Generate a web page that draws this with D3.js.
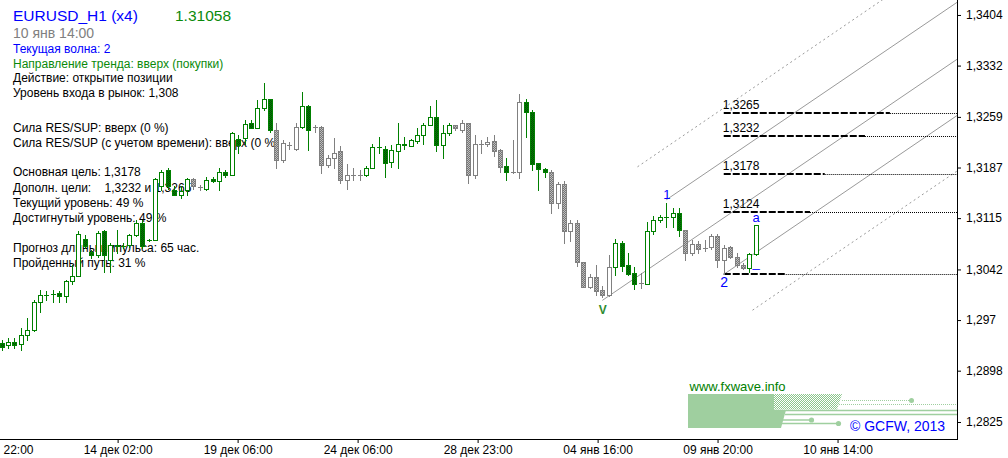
<!DOCTYPE html>
<html lang="ru">
<head>
<meta charset="UTF-8">
<title>EURUSD_H1 (x4)</title>
<script src="https://cdn.jsdelivr.net/npm/d3@7"></script>
<style>
  body { margin: 0; background: #fff; }
  svg { display: block; font-family: "Liberation Sans", Arial, sans-serif; }
</style>
</head>
<body>
<div id="chart"></div>
<script>
const width = 1008
const height = 458
const plot = { right: 957, bottom: 439 }

// candles, oldest first
const opens = [1.2937,1.2935,1.2939,1.2936,1.2949,1.2956,1.2996,1.3006,1.3007,1.3008,
  1.3004,1.3025,1.3032,1.3086,1.3067,1.3063,1.3096,1.3056,1.3075,1.3076,
  1.3077,1.3091,1.3108,1.3084,1.3084,1.3160,1.3183,1.3155,1.3148,1.3155,
  1.3170,1.3159,1.3157,1.3170,1.3168,1.3181,1.3176,1.3228,1.3229,1.3250,
  1.3243,1.3271,1.3284,1.3241,1.3198,1.3219,1.3214,1.3245,1.3274,1.3244,
  1.3245,1.3191,1.3200,1.3210,1.3169,1.3177,1.3176,1.3176,1.3187,1.3216,
  1.3214,1.3195,1.3211,1.3221,1.3218,1.3225,1.3233,1.3248,1.3259,1.3219,
  1.3236,1.3247,1.3241,1.3250,1.3176,1.3221,1.3220,1.3225,1.3212,1.3189,
  1.3181,1.3180,1.3280,1.3266,1.3193,1.3185,1.3180,1.3136,1.3163,1.3096,
  1.3108,1.3052,1.3017,1.3031,1.3013,1.3006,1.3045,1.3079,1.3048,1.3037,
  1.3023,1.3022,1.3096,1.3112,1.3117,1.3117,1.3122,1.3098,1.3065,1.3078,
  1.3072,1.3074,1.3089,1.3055,1.3074,1.3060,1.3048,1.3044,1.3064]
const highs = [1.2942,1.2944,1.2944,1.2958,1.2973,1.2999,1.3013,1.3011,1.3013,1.3011,
  1.3027,1.3048,1.3096,1.3091,1.3070,1.3096,1.3098,1.3079,1.3098,1.3079,
  1.3093,1.3112,1.3112,1.3086,1.3172,1.3184,1.3186,1.3160,1.3160,1.3172,
  1.3172,1.3162,1.3174,1.3174,1.3187,1.3183,1.3238,1.3233,1.3255,1.3255,
  1.3283,1.3307,1.3285,1.3250,1.3226,1.3224,1.3250,1.3294,1.3276,1.3248,
  1.3246,1.3205,1.3229,1.3217,1.3192,1.3187,1.3184,1.3189,1.3221,1.3231,
  1.3217,1.3219,1.3251,1.3231,1.3227,1.3243,1.3251,1.3274,1.3283,1.3248,
  1.3251,1.3248,1.3255,1.3251,1.3233,1.3226,1.3231,1.3233,1.3214,1.3200,
  1.3226,1.3292,1.3285,1.3269,1.3194,1.3187,1.3184,1.3167,1.3168,1.3112,
  1.3112,1.3053,1.3036,1.3048,1.3019,1.3063,1.3086,1.3082,1.3065,1.3046,
  1.3037,1.3110,1.3118,1.3119,1.3136,1.3129,1.3129,1.3098,1.3084,1.3082,
  1.3084,1.3092,1.3092,1.3077,1.3076,1.3066,1.3051,1.3066,1.3105]
const lows = [1.2928,1.2930,1.2930,1.2928,1.2942,1.2954,1.2982,1.2999,1.2996,1.2996,
  1.2996,1.3022,1.3032,1.3072,1.3058,1.3060,1.3039,1.3039,1.3065,1.3072,
  1.3074,1.3089,1.3072,1.3082,1.3084,1.3155,1.3157,1.3148,1.3143,1.3148,
  1.3157,1.3155,1.3155,1.3167,1.3155,1.3174,1.3176,1.3208,1.3221,1.3243,
  1.3243,1.3269,1.3238,1.3186,1.3195,1.3214,1.3212,1.3243,1.3212,1.3238,
  1.3179,1.3188,1.3186,1.3165,1.3156,1.3169,1.3169,1.3175,1.3187,1.3207,
  1.3173,1.3188,1.3186,1.3214,1.3217,1.3222,1.3221,1.3247,1.3210,1.3200,
  1.3233,1.3240,1.3238,1.3165,1.3172,1.3207,1.3217,1.3203,1.3181,1.3169,
  1.3179,1.3172,1.3231,1.3184,1.3155,1.3174,1.3123,1.3129,1.3080,1.3082,
  1.3047,1.3017,1.3015,1.3006,1.3003,1.3004,1.3034,1.3040,1.3034,1.3014,
  1.3015,1.3022,1.3093,1.3110,1.3103,1.3103,1.3090,1.3055,1.3063,1.3065,
  1.3068,1.3071,1.3046,1.3036,1.3058,1.3046,1.3042,1.3039,1.3062]
const closes = [1.2932,1.2939,1.2935,1.2949,1.2956,1.2996,1.3006,1.3006,1.3007,1.3004,
  1.3025,1.3032,1.3093,1.3075,1.3063,1.3094,1.3063,1.3077,1.3077,1.3076,
  1.3091,1.3108,1.3075,1.3084,1.3170,1.3181,1.3160,1.3148,1.3154,1.3170,
  1.3160,1.3159,1.3169,1.3168,1.3181,1.3176,1.3236,1.3219,1.3249,1.3243,
  1.3271,1.3284,1.3241,1.3198,1.3222,1.3219,1.3245,1.3274,1.3241,1.3244,
  1.3191,1.3200,1.3207,1.3169,1.3177,1.3177,1.3176,1.3187,1.3216,1.3216,
  1.3194,1.3212,1.3221,1.3219,1.3226,1.3233,1.3248,1.3259,1.3219,1.3236,
  1.3247,1.3243,1.3250,1.3176,1.3220,1.3221,1.3224,1.3211,1.3188,1.3181,
  1.3181,1.3280,1.3266,1.3192,1.3185,1.3181,1.3136,1.3163,1.3096,1.3108,
  1.3052,1.3017,1.3031,1.3012,1.3006,1.3045,1.3079,1.3047,1.3036,1.3022,
  1.3023,1.3097,1.3112,1.3117,1.3117,1.3122,1.3098,1.3065,1.3078,1.3071,
  1.3072,1.3089,1.3055,1.3072,1.3060,1.3048,1.3044,1.3064,1.31058]
// g = wave candle (green), k = grey candle
const tones = 'gggggggggggggggggggggggggggggg' + 'kkgggggggggggkkkkggkkkkkkkkggg' +
  'gggggggggggkkkkkkkkgkkggggkkkk' + 'kkkkkkggggkggggggkkkkkkkkkkgg'

const priceTicks = [1.3404, 1.3332, 1.3259, 1.3187, 1.3115, 1.3042, 1.297, 1.2898, 1.2825]
// the first label is cut by the left edge in the original, only its time shows
const timeLabels = ['22:00', '14 дек 02:00', '19 дек 06:00', '24 дек 06:00',
  '28 дек 23:00', '04 янв 16:00', '09 янв 20:00', '10 янв 14:00']
const timeTickBars = [-0.64, 18.14, 36.92, 55.7, 74.48, 93.26, 112.03, 130.81]

const levelPrices = [1.3265, 1.3232, 1.3178, 1.3124, 1.3035]
const levelLabels = ['1,3265', '1,3232', '1,3178', '1,3124', '']
const levelStartBar = 113
const levelEndBars = [139, 135.1, 128.8, 126.5, 122.7]

// channel lines [bar, price]
const channelStart = [[99.5, 1.3188], [104, 1.3141], [94, 1.2998], [113, 1.3035], [117.5, 1.2984]]
const channelEnd = [[150, 1.3501], [150, 1.3425], [150, 1.3344], [150, 1.3264], [150, 1.3185]]

const waveLabels = ['V', '1', '2', 'a', '_']
const waveBars = [94, 104, 113, 118, 118]

const title = 'EURUSD_H1 (x4)'
const lastPrice = '1.31058'
const barTime = '10 янв 14:00'
const infoLines = [
  'Текущая волна: 2',
  'Направление тренда: вверх (покупки)',
  'Действие: открытие позиции',
  'Уровень входа в рынок: 1,308',
  'Сила RES/SUP: вверх (0 %)',
  'Сила RES/SUP (с учетом времени): вверх (0 %)',
  'Основная цель: 1,3178',
  'Дополн. цели:    1,3232 и 1,3265',
  'Текущий уровень: 49 %',
  'Достигнутый уровень: 49 %',
  'Прогноз длины импульса: 65 час.',
  'Пройденный путь: 31 %'
]

const infoY = [53, 68, 82, 96.5, 132, 147, 176, 192, 207, 222, 251.5, 267]
const infoColors = ['#0000ff', '#0a8a0a', '#000', '#000', '#000', '#000', '#000', '#000', '#000', '#000', '#000', '#000']

const x = d3.scaleLinear().domain([0, 118]).range([1.7, 755.7])
const y = d3.scaleLinear().domain([1.28008, 1.34253]).range([plot.bottom, 0])

const svg = d3.select('#chart').append('svg')
  .attr('width', width)
  .attr('height', height)

const defs = svg.append('defs')
function checker(id, a, b) {
  const p = defs.append('pattern').attr('id', id)
    .attr('patternUnits', 'userSpaceOnUse').attr('width', 2).attr('height', 2)
  p.append('rect').attr('width', 2).attr('height', 2).attr('fill', a)
  p.append('rect').attr('width', 1).attr('height', 1).attr('fill', b)
  p.append('rect').attr('x', 1).attr('y', 1).attr('width', 1).attr('height', 1).attr('fill', b)
}
checker('fillG', '#008000', '#034f03')
checker('fillK', '#747474', '#bdbdbd')
checker('hatchL', '#8cc68c', '#ffffff')
defs.append('clipPath').attr('id', 'plotClip')
  .append('rect').attr('width', plot.right).attr('height', plot.bottom)

// header texts
svg.append('text').attr('x', 13).attr('y', 21).attr('font-size', 15.5).attr('fill', '#0000ff').text(title)
svg.append('text').attr('x', 175).attr('y', 21).attr('font-size', 15.5).attr('fill', '#0a8a0a').text(lastPrice)
svg.append('text').attr('x', 13).attr('y', 38.3).attr('font-size', 14).attr('fill', '#808080').text(barTime)

svg.append('g').attr('font-size', 12)
  .selectAll('text').data(infoLines).join('text')
  .attr('x', 13)
  .attr('y', (d, i) => infoY[i])
  .attr('fill', (d, i) => infoColors[i])
  .style('white-space', 'pre')
  .text(d => d)

const chart = svg.append('g').attr('clip-path', 'url(#plotClip)')

// channel
chart.selectAll('.channel').data(channelStart).join('line')
  .attr('class', 'channel')
  .attr('x1', d => x(d[0])).attr('y1', d => y(d[1]))
  .attr('x2', (d, i) => x(channelEnd[i][0])).attr('y2', (d, i) => y(channelEnd[i][1]))
  .attr('stroke', '#9a9a9a')
  .attr('stroke-width', 1)
  .attr('stroke-dasharray', (d, i) => (i === 0 || i === 4) ? '2,3' : null)

// levels
const lv = chart.selectAll('.level').data(levelPrices).join('g').attr('class', 'level')
lv.append('line')
  .attr('x1', x(levelStartBar)).attr('x2', (d, i) => x(levelEndBars[i]))
  .attr('y1', d => Math.round(y(d))).attr('y2', d => Math.round(y(d)))
  .attr('stroke', '#000').attr('stroke-width', 2).attr('stroke-dasharray', '7,2')
lv.append('line')
  .attr('x1', (d, i) => x(levelEndBars[i])).attr('x2', plot.right)
  .attr('y1', d => Math.round(y(d)) + 0.5).attr('y2', d => Math.round(y(d)) + 0.5)
  .attr('stroke', '#000').attr('stroke-width', 1).attr('stroke-dasharray', '1,1')
lv.append('text')
  .attr('x', x(levelStartBar) - 1).attr('y', d => Math.round(y(d)) - 4)
  .attr('font-size', 12).attr('fill', '#000')
  .text((d, i) => levelLabels[i])

// candles
const candles = opens.map((o, i) => ({ i, o, h: highs[i], l: lows[i], c: closes[i], tone: tones[i] }))
chart.selectAll('.candle').data(candles).join('g')
  .attr('class', 'candle')
  .each(function (d) {
    const s = d3.select(this)
    const px = Math.round(x(d.i))
    const col = d.tone === 'g' ? '#008000' : '#808080'
    s.append('line')
      .attr('x1', px + 0.5).attr('x2', px + 0.5)
      .attr('y1', Math.round(y(d.h))).attr('y2', Math.round(y(d.l)) + 1)
      .attr('stroke', col)
    const yo = Math.round(y(d.o))
    const yc = Math.round(y(d.c))
    if (yo === yc) {
      s.append('line')
        .attr('x1', px - 2).attr('x2', px + 3)
        .attr('y1', yo + 0.5).attr('y2', yo + 0.5)
        .attr('stroke', col)
    } else {
      const fill = d.c > d.o ? '#fff' : (d.tone === 'g' ? 'url(#fillG)' : 'url(#fillK)')
      s.append('rect')
        .attr('x', px - 1.5).attr('width', 4)
        .attr('y', Math.min(yo, yc) + 0.5).attr('height', Math.abs(yo - yc))
        .attr('fill', fill).attr('stroke', col)
    }
  })

// wave marks
const waveAnchor = (t, b) => {
  if (t === 'V') return y(lows[b]) + 17
  if (t === '2') return y(lows[b]) + 13
  if (t === '_') return y(lows[b]) + 12
  if (t === '1') return y(highs[b]) - 4
  return y(highs[b]) - 3.5
}
chart.selectAll('.wave').data(waveLabels).join('text')
  .attr('class', 'wave')
  .attr('x', (d, i) => x(waveBars[i]) + 0.5)
  .attr('y', (d, i) => waveAnchor(d, waveBars[i]))
  .attr('text-anchor', 'middle')
  .attr('font-size', d => d === 'V' ? 12 : d === '2' ? 14 : 13)
  .attr('font-weight', d => d === 'V' ? 'bold' : null)
  .attr('fill', d => d === 'V' ? '#2e8b2e' : '#0000ff')
  .text(d => d)

// logo
const logo = svg.append('g')
logo.append('text').attr('x', 689.5).attr('y', 390.5).attr('font-size', 13).attr('fill', '#008000').text('www.fxwave.info')
logo.append('path').attr('d', 'M688,394H774V410H786L781,428H688Z').attr('fill', '#9fcf9f')
logo.append('path').attr('d', 'M774,394H842L837,409.5H774Z').attr('fill', 'url(#hatchL)')
const lg = '#9fcf9f'
logo.append('line').attr('x1', 842).attr('x2', 911).attr('y1', 400.5).attr('y2', 400.5).attr('stroke', lg).attr('stroke-dasharray', '1,1')
logo.append('circle').attr('cx', 911.5).attr('cy', 400.5).attr('r', 2.5).attr('fill', lg)
logo.append('line').attr('x1', 837).attr('x2', plot.right).attr('y1', 404.5).attr('y2', 404.5).attr('stroke', lg).attr('stroke-dasharray', '1,1')
logo.append('line').attr('x1', 774).attr('x2', plot.right).attr('y1', 410.5).attr('y2', 410.5).attr('stroke', lg).attr('stroke-width', 1.5)
logo.append('line').attr('x1', 785).attr('x2', plot.right).attr('y1', 414.5).attr('y2', 414.5).attr('stroke', lg).attr('stroke-width', 1.5)
logo.append('line').attr('x1', 781).attr('x2', 811).attr('y1', 420).attr('y2', 420).attr('stroke', lg).attr('stroke-width', 1.5)
logo.append('circle').attr('cx', 811.5).attr('cy', 420).attr('r', 2.6).attr('fill', lg)
logo.append('line').attr('x1', 780).attr('x2', 838).attr('y1', 423.5).attr('y2', 423.5).attr('stroke', lg).attr('stroke-width', 1.5)
logo.append('circle').attr('cx', 838.5).attr('cy', 423.5).attr('r', 2.6).attr('fill', lg)
logo.append('text').attr('x', 850).attr('y', 430.5).attr('font-size', 14).attr('fill', '#0000ff').text('© GCFW, 2013')

// axes
const yAxis = d3.axisRight(y)
  .tickValues(priceTicks)
  .tickSize(4).tickSizeOuter(0).tickPadding(5)
  .tickFormat(d => String(d).replace('.', ','))
const ya = svg.append('g').attr('transform', `translate(${plot.right}, 0)`).call(yAxis)

const xAxis = d3.axisBottom(x)
  .tickValues(timeTickBars)
  .tickSize(4).tickSizeOuter(0).tickPadding(2)
  .tickFormat((d, i) => timeLabels[i])
const xa = svg.append('g').attr('transform', `translate(0, ${plot.bottom})`).call(xAxis)

;[ya, xa].forEach(a => {
  a.select('.domain').remove()
  a.selectAll('text').attr('font-size', 12).attr('fill', '#000')
    .attr('font-family', '"Liberation Sans", Arial, sans-serif')
  a.selectAll('line').attr('stroke', '#000')
})
// left-most label: only the visible time part, starting at the edge
xa.selectAll('.tick').filter((d, i) => i === 0).select('text')
  .attr('text-anchor', 'start').attr('x', 5.4)

svg.append('line').attr('x1', plot.right + 0.5).attr('x2', plot.right + 0.5)
  .attr('y1', 0).attr('y2', plot.bottom + 1).attr('stroke', '#000')
svg.append('line').attr('x1', 0).attr('x2', plot.right + 1)
  .attr('y1', plot.bottom + 0.5).attr('y2', plot.bottom + 0.5).attr('stroke', '#000')
</script>
</body>
</html>
